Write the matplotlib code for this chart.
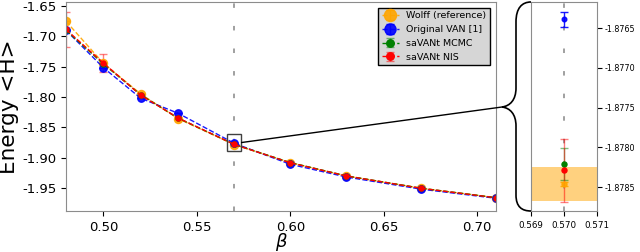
import numpy as np
import matplotlib
matplotlib.use("Agg")
import matplotlib.pyplot as plt
from matplotlib.path import Path
from matplotlib.patches import PathPatch, Rectangle
from matplotlib.lines import Line2D
from matplotlib.ticker import FormatStrFormatter

beta = np.array([0.48, 0.50, 0.52, 0.54, 0.57, 0.60, 0.63, 0.67, 0.71])
wolff = np.array([-1.6752, -1.7445, -1.7951, -1.8358, -1.87846, -1.9083, -1.9302, -1.9505, -1.9660])
wolff_err = np.array([0.0003, 0.0002, 0.0001, 0.0001, 0.00003, 0.00003, 0.00003, 0.00003, 0.00003])
van = np.array([-1.6900, -1.7517, -1.8021, -1.8269, -1.87639, -1.9110, -1.9320, -1.9520, -1.9670])
van_err = np.array([0.0001, 0.0001, 0.0001, 0.0001, 0.00009, 0.0001, 0.0001, 0.0001, 0.0001])
mcmc = np.array([-1.6900, -1.7455, -1.7965, -1.8350, -1.87821, -1.9082, -1.9302, -1.9505, -1.9661])
mcmc_err = np.array([0.002, 0.001, 0.0008, 0.0005, 0.0002, 0.0002, 0.0002, 0.0002, 0.0002])
nis = np.array([-1.6887, -1.7440, -1.7972, -1.8346, -1.87829, -1.9085, -1.9303, -1.9506, -1.9662])
nis_err = np.array([0.029, 0.0143, 0.003, 0.0015, 0.0004, 0.0003, 0.0003, 0.0003, 0.0003])
band_half = 0.00021

labels = ["Wolff (reference)", "Original VAN [1]", "saVANt MCMC", "saVANt NIS"]

W, H = 640, 252
fig = plt.figure(figsize=(6.4, 2.52), dpi=100)

def px(x, y):
    return (x / W, 1 - y / H)

ax = fig.add_axes([66 / W, 41 / H, 430 / W, 209 / H])
ax2 = fig.add_axes([531 / W, 41 / H, 66 / W, 209 / H])


def draw(a, ms_big, ms_small, cap, fmt):
    c1 = a.errorbar(beta, wolff, yerr=wolff_err, fmt=fmt, color='orange', ms=ms_big,
                    lw=1, capsize=cap, alpha=0.9, label=labels[0])
    c2 = a.errorbar(beta, van, yerr=van_err, fmt=fmt, color='blue', ms=ms_big * 0.92,
                    lw=1, capsize=cap, alpha=0.9, label=labels[1])
    c3 = a.errorbar(beta, mcmc, yerr=mcmc_err, fmt=fmt, color='green', ms=ms_small,
                    lw=1, capsize=cap, label=labels[2])
    c4 = a.errorbar(beta, nis, yerr=nis_err, fmt=fmt, color='red', ms=ms_small,
                    lw=1, capsize=cap, label=labels[3])
    for c in (c3, c4):
        for l in c[1]:
            l.set_alpha(0.5)
        for l in c[2]:
            l.set_alpha(0.5)
    return c1, c2, c3, c4

draw(ax, 5.8, 3.6, 3, 'o--')
ax.axvline(0.57, color='0.6', lw=1.3, ls=(0, (2.5, 10)), zorder=0)
ax.set_xlim(0.48, 0.71)
ax.set_ylim(-1.988, -1.6434)
ax.set_xticks([0.50, 0.55, 0.60, 0.65, 0.70])
ax.set_yticks([-1.95, -1.90, -1.85, -1.80, -1.75, -1.70, -1.65])
ax.xaxis.set_major_formatter(FormatStrFormatter('%.2f'))
ax.yaxis.set_major_formatter(FormatStrFormatter('%.2f'))
ax.tick_params(labelsize=9.5)
ax.set_xlabel(r'$\beta$', fontsize=13, labelpad=-1.8)
ax.set_ylabel('Energy <H>', fontsize=15.5, labelpad=2)
for s in ax.spines.values():
    s.set_color('0.55')
ax.add_patch(Rectangle((0.5663, -1.8897), 0.0075, 0.0291, fill=False,
                       ec='0.25', lw=1, zorder=5))
leg = ax.legend(loc='upper right', fontsize=6.8, fancybox=False, framealpha=1,
                facecolor='#d6d6d6', edgecolor='black', markerscale=1.5,
                handlelength=1.8, borderaxespad=0.6)
leg.get_frame().set_linewidth(1)

# inset
draw(ax2, 3.6, 3.6, 3, 'o')
ax2.axhspan(wolff[4] - band_half, wolff[4] + band_half, color='orange', alpha=0.5, lw=0, zorder=0)
ax2.axvline(0.57, color='0.6', lw=1.3, ls=(0, (2.5, 10)), zorder=0)
ax2.set_xlim(0.569, 0.571)
ax2.set_ylim(-1.8788, -1.87617)
ax2.set_xticks([0.569, 0.570, 0.571])
ax2.set_yticks([-1.8785, -1.8780, -1.8775, -1.8770, -1.8765])
ax2.xaxis.set_major_formatter(FormatStrFormatter('%.3f'))
ax2.yaxis.set_major_formatter(FormatStrFormatter('%.4f'))
ax2.yaxis.tick_right()
ax2.tick_params(axis='x', labelsize=6.3)
ax2.tick_params(axis='y', labelsize=5.8, pad=2)
for s in ax2.spines.values():
    s.set_color('0.55')

# connection line and curly brace
x0, y0 = px(241.7, 142.5)
x1, y1 = px(502, 107)
fig.add_artist(Line2D([x0, x1], [y0, y1], color='black', lw=1, transform=fig.transFigure))

pts = [(531, 2), (522, 2), (516, 8), (516, 22),
       (516, 88),
       (516, 100), (510, 106), (502, 107),
       (510, 108), (516, 114), (516, 126),
       (516, 195),
       (516, 207), (522, 211), (531, 211)]
codes = [Path.MOVETO, Path.CURVE4, Path.CURVE4, Path.CURVE4,
         Path.LINETO,
         Path.CURVE4, Path.CURVE4, Path.CURVE4,
         Path.CURVE4, Path.CURVE4, Path.CURVE4,
         Path.LINETO,
         Path.CURVE4, Path.CURVE4, Path.CURVE4]
brace = Path([px(*p) for p in pts], codes)
fig.add_artist(PathPatch(brace, fc='none', ec='black', lw=1.2, transform=fig.transFigure))

fig.savefig('out.png', dpi=100)
